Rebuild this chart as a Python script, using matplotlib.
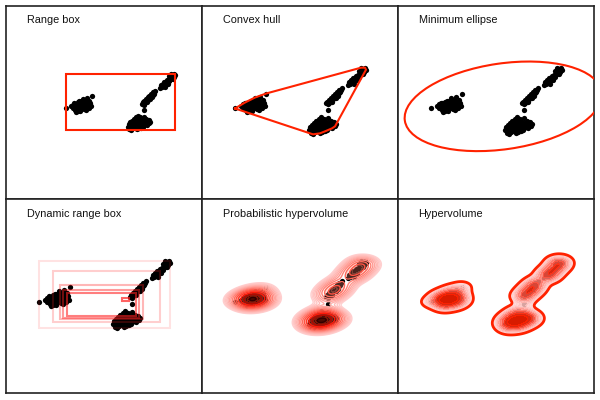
import numpy as np
import matplotlib
matplotlib.use("Agg")
import matplotlib.pyplot as plt
from matplotlib.patches import Ellipse, Rectangle
from matplotlib.colors import LinearSegmentedColormap

plt.rcParams['font.family'] = ['Liberation Sans', 'DejaVu Sans']

titles = ["Range box", "Convex hull", "Minimum ellipse",
          "Dynamic range box", "Probabilistic hypervolume", "Hypervolume"]

# punkty (jednostki ~ piksele panelu, y w dol)
left_x = [33, 39, 41, 41, 43, 43, 44, 45, 46, 47, 47, 48, 49, 50, 51, 51, 52, 53,
          54, 55, 55, 56, 57, 58, 58, 59, 60, 61, 62, 63, 64, 45, 50, 53, 57,
          42, 44, 46, 48, 49, 52, 54, 56, 59, 61, 47]
left_y = [103, 101, 99, 103, 97, 101, 105, 99, 102, 96, 100, 104, 98, 101, 95, 99, 103, 97,
          100, 94, 104, 98, 101, 91, 96, 99, 103, 94, 97, 101, 88, 107, 106, 92, 105,
          100, 98, 104, 101, 95, 100, 103, 96, 102, 99, 106]

upper_x = [146, 148, 147, 150, 149, 152, 151, 153, 155, 154, 156, 157, 158, 157, 159,
           160, 161, 162, 163, 164, 152, 155, 159, 161]
upper_y = [79, 78, 76, 77, 74, 75, 72, 73, 72, 70, 69, 71, 67, 65, 68,
           65, 63, 66, 62, 64, 78, 74, 62, 68]

middle_x = [124, 125, 127, 127, 129, 129, 131, 131, 133, 133, 135, 135, 137, 137, 139,
            140, 126, 130, 134, 136, 138]
middle_y = [98, 96, 97, 94, 95, 92, 93, 90, 91, 88, 89, 86, 87, 84, 84,
            82, 99, 96, 92, 90, 86]

lone_x = [126]
lone_y = [105]

bottom_x = [107, 108, 109, 110, 110, 112, 112, 113, 114, 114, 115, 116, 117, 117, 118,
            119, 120, 121, 122, 122, 123, 124, 125, 126, 127, 128, 129, 130, 132, 133,
            134, 111, 120, 125, 119, 109, 111, 113, 115, 116, 118, 119, 121, 123, 124,
            126, 128, 130, 131]
bottom_y = [125, 122, 128, 120, 125, 118, 123, 127, 116, 121, 125, 119, 114, 123, 128,
            117, 121, 125, 114, 119, 123, 117, 121, 113, 118, 122, 116, 120, 117, 121,
            119, 129, 127, 125, 112, 124, 122, 120, 122, 126, 120, 124, 118, 126, 120,
            123, 119, 123, 118]

range_levels = [0.0, 0.1, 0.2, 0.25, 0.3, 0.45]

x = np.array(left_x + upper_x + middle_x + lone_x + bottom_x, dtype=float)
y = np.array(left_y + upper_y + middle_y + lone_y + bottom_y, dtype=float)

RED = '#ff2200'


def otoczka(px, py):
    pts = sorted(set(zip(px, py)))

    def cross(o, a, b):
        return (a[0] - o[0]) * (b[1] - o[1]) - (a[1] - o[1]) * (b[0] - o[0])
    lower, upper = [], []
    for p in pts:
        while len(lower) >= 2 and cross(lower[-2], lower[-1], p) <= 0:
            lower.pop()
        lower.append(p)
    for p in reversed(pts):
        while len(upper) >= 2 and cross(upper[-2], upper[-1], p) <= 0:
            upper.pop()
        upper.append(p)
    h = lower[:-1] + upper[:-1]
    h.append(h[0])
    return np.array(h)


gx, gy = np.meshgrid(np.arange(0, 196.5, 0.5), np.arange(0, 194.5, 0.5))


def gestosc(hx, hy):
    d = np.zeros_like(gx)
    for xi, yi in zip(x, y):
        d += np.exp(-0.5 * (((gx - xi) / hx) ** 2 + ((gy - yi) / hy) ** 2))
    return d


fig = plt.figure(figsize=(6, 4), dpi=100)
lefts = [6, 202, 398]
tops = [6, 199]
axes = []
for r in range(2):
    for c in range(3):
        w = (lefts[c + 1] if c < 2 else 594) - lefts[c]
        hgt = (tops[1] if r == 0 else 393) - tops[r]
        ax = fig.add_axes([lefts[c] / 600, 1 - (tops[r] + hgt) / 400, w / 600, hgt / 400])
        ax.set_xticks([])
        ax.set_yticks([])
        for s in ax.spines.values():
            s.set_linewidth(1.2)
            s.set_color('#222222')
        ax.set_xlim(0, 196)
        ax.set_ylim(194, 0)
        ax.text(0.105, 0.925, titles[r * 3 + c], transform=ax.transAxes,
                fontsize=7.8, va='center', ha='left', color='#111111')
        ax.plot(x, y, 'o', ms=3.8, color='black', mew=0, zorder=2)
        axes.append(ax)

# 1. range box
ax = axes[0]
ax.set_xlim(-39, 196)
ax.set_ylim(211, -18.5)
ax.add_patch(Rectangle((x.min(), y.min()), x.max() - x.min(), y.max() - y.min(),
                       fill=False, ec=RED, lw=1.5, zorder=3))

# 2. convex hull
h = otoczka(x, y)
axes[1].plot(h[:, 0], h[:, 1], color=RED, lw=1.5, zorder=3)

# 3. ellipse (95%)
cov = np.cov(x, y)
val, vec = np.linalg.eigh(cov)
k = np.sqrt(5.991)
ang = np.degrees(np.arctan2(vec[1, 1], vec[0, 1]))
axes[2].add_patch(Ellipse((x.mean(), y.mean()), 2 * k * np.sqrt(val[1]), 2 * k * np.sqrt(val[0]),
                          angle=ang, fill=False, ec=RED, lw=1.5, zorder=3))

# 4. dynamic range box
ax = axes[3]
box_alpha = [0.13, 0.22, 0.32, 0.45, 0.58, 0.7]
for i, a in enumerate(range_levels):
    qx = np.quantile(x, [a, 1 - a])
    qy = np.quantile(y, [a, 1 - a])
    ax.add_patch(Rectangle((qx[0], qy[0]), qx[1] - qx[0], qy[1] - qy[0], fill=False,
                           ec=(1, 0.13, 0.13, box_alpha[i]), lw=1.5, zorder=3))

# 5. probabilistic hypervolume
ax = axes[4]
d5 = gestosc(10, 5)
lev = d5.max() * np.geomspace(0.06, 0.95, 14)
cm5 = LinearSegmentedColormap.from_list('r5', ['#ffd0d0', '#ff6050', '#ff1000', '#300000'])
cmf = LinearSegmentedColormap.from_list('f5', ['#ff9080', '#ff2000'])
ax.contourf(gx, gy, d5, levels=d5.max() * np.linspace(0.35, 1.0, 8), cmap=cmf, alpha=0.3, zorder=3)
ax.contour(gx, gy, d5, levels=lev, cmap=cm5, linewidths=1.0, zorder=4)

# 6. hypervolume
ax = axes[5]
d6 = gestosc(6, 3.5)
thr = 0.35
cm6 = LinearSegmentedColormap.from_list('r6', ['#ffe0e0', '#ff6050', '#ff2000', '#ff2000'])
ax.contourf(gx, gy, d6, levels=np.geomspace(thr, d6.max(), 12), cmap=cm6, alpha=0.85, zorder=3)
ax.contour(gx, gy, d6, levels=[thr], colors=RED, linewidths=2.0, zorder=4)

fig.savefig('out.png', dpi=100)
